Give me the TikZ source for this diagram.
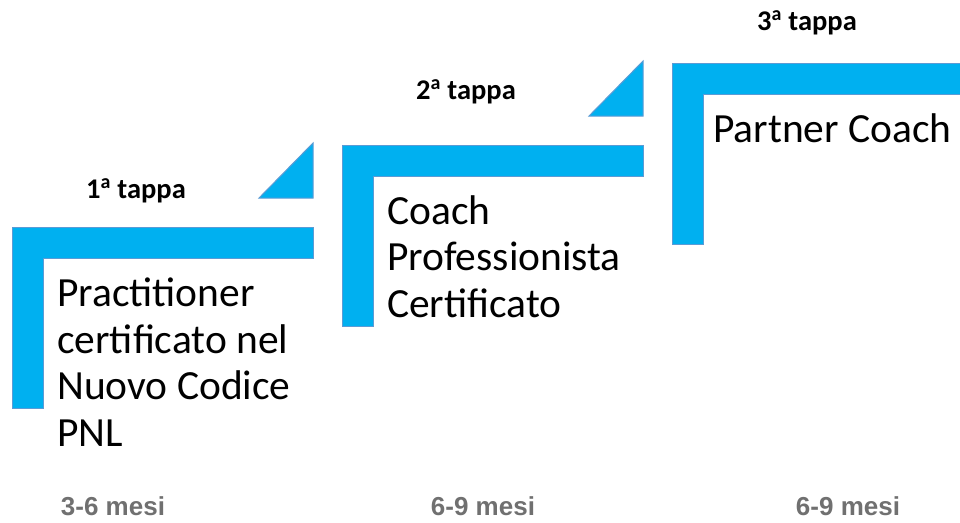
\documentclass[tikz,border=0pt]{standalone}
\usepackage{fontspec}
\setmainfont{Carlito}
\newfontfamily\labfont{Liberation Sans}
\definecolor{stepfill}{RGB}{0,176,240}
\definecolor{stepline}{RGB}{91,155,213}
\definecolor{mesigrey}{RGB}{112,112,112}
\tikzset{
  stepshape/.style={fill=stepfill, draw=stepline, line width=1pt},
  tappa/.style={font=\fontsize{28.5}{33}\selectfont\bfseries, inner sep=0pt, anchor=base},
  title/.style={font=\fontsize{41.5}{46.5}\selectfont, align=left, inner sep=0pt, anchor=base west},
  mesi/.style={font=\labfont\fontsize{26}{30}\selectfont\bfseries, text=mesigrey, inner sep=0pt, anchor=base}
}
\begin{document}
\begin{tikzpicture}[x=1pt,y=-1pt]
\useasboundingbox (0,0) rectangle (960,522);
% L shapes
\foreach \k in {0,1,2}{
  \pgfmathsetmacro{\ox}{12+330*\k}
  \pgfmathsetmacro{\oy}{227-82*\k}
  \draw[stepshape] (\ox,\oy) -- ++(301,0) -- ++(0,31) -- ++(-270,0) -- ++(0,150) -- ++(-31,0) -- cycle;
}
% triangles
\draw[stepshape] (259,198) -- (313,198) -- (313,143) -- cycle;
\draw[stepshape] (589,116) -- (643,116) -- (643,61) -- cycle;
% labels
\node[tappa] (t1) at (136,198) {1\textsuperscript{a} tappa};
\node[tappa] (t2) at (466,99) {2\textsuperscript{a} tappa};
\node[tappa] (t3) at (807,30) {3\textsuperscript{a} tappa};
% anchor base = baseline of the last line
\node[title] (s1) at (57,446) {Practitioner\\certificato nel\\Nuovo Codice\\PNL};
\node[title] (s2) at (387,317) {Coach\\Professionista\\Certificato};
\node[title] (s3) at (713,142) {Partner Coach};
\node[mesi] (m1) at (113,515) {3-6 mesi};
\node[mesi] (m2) at (483,515) {6-9 mesi};
\node[mesi] (m3) at (848,515) {6-9 mesi};
\end{tikzpicture}
\end{document}
